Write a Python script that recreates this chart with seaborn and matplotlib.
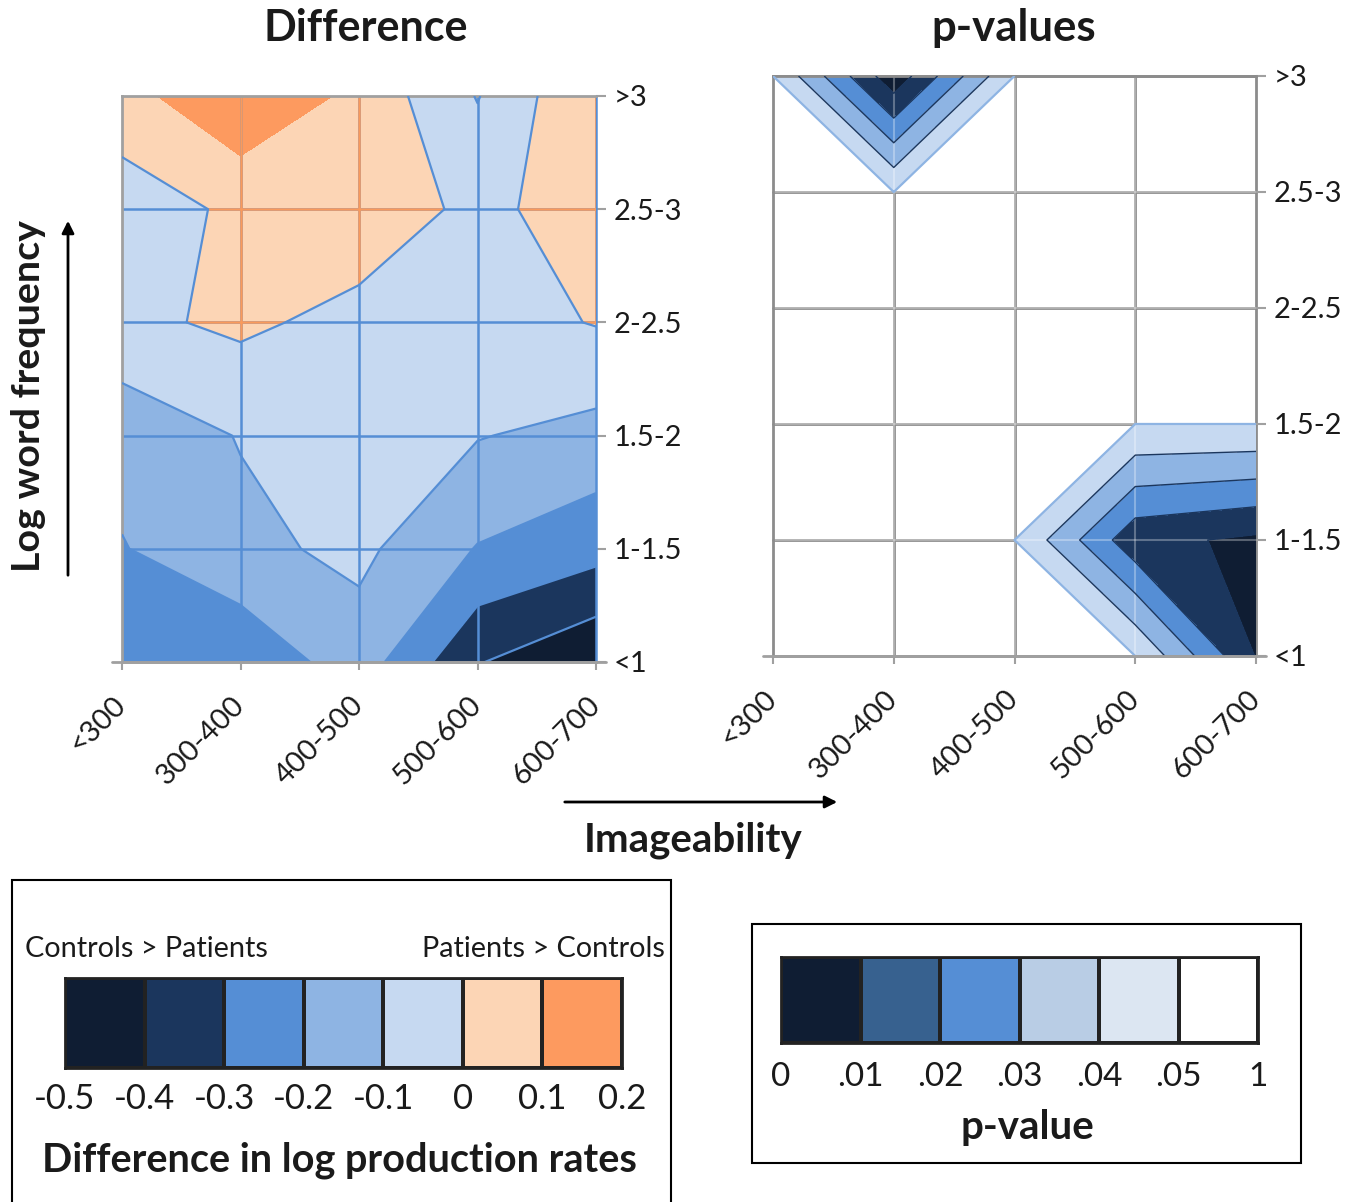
import numpy as np
import matplotlib
matplotlib.use("Agg")
import matplotlib.pyplot as plt
import seaborn as sns
from matplotlib.colors import ListedColormap
from matplotlib.path import Path
from matplotlib.patches import PathPatch, Rectangle

# ---------------- data ----------------
imageability = ["<300", "300-400", "400-500", "500-600", "600-700"]
log_freq = ["<1", "1-1.5", "1.5-2", "2-2.5", "2.5-3", ">3"]

# Difference in log production rates (patients - controls); one list per frequency band
diff_lt1 = [-0.25, -0.277, -0.146, -0.394, -0.49]
diff_1_15 = [-0.205, -0.124, -0.077, -0.205, -0.265]
diff_15_2 = [-0.166, -0.095, -0.05, -0.095, -0.133]
diff_2_25 = [-0.024, 0.02, -0.033, -0.04, 0.005]
diff_25_3 = [-0.053, 0.02, 0.067, -0.026, 0.05]
diff_gt3 = [0.062, 0.19, 0.074, -0.105, 0.102]

# p-values; one list per frequency band
p_lt1 = [0.5, 0.5, 0.5, 0.0499, 0.0095]
p_1_15 = [0.5, 0.5, 0.0499, 0.013, 0.008]
p_15_2 = [0.5, 0.5, 0.5, 0.0499, 0.0499]
p_2_25 = [0.5, 0.5, 0.5, 0.5, 0.5]
p_25_3 = [0.5, 0.0499, 0.5, 0.5, 0.5]
p_gt3 = [0.0499, 0.003, 0.0499, 0.5, 0.5]

diff_levels = [-0.5, -0.4, -0.3, -0.2, -0.1, 0, 0.1, 0.2]
diff_labels = ["-0.5", "-0.4", "-0.3", "-0.2", "-0.1", "0", "0.1", "0.2"]
p_levels = [0, 0.01, 0.02, 0.03, 0.04, 0.05, 1]
p_labels = ["0", ".01", ".02", ".03", ".04", ".05", "1"]

# ---------------- styles ----------------
diff_colors = ["#0f1d33", "#1b365d", "#558ed5", "#8eb4e3", "#c6d9f1", "#fcd5b5", "#fd9a5f"]
p_map_colors = ["#0f1d33", "#1b365d", "#558ed5", "#8eb4e3", "#c6d9f1", "#ffffff00"]
p_legend_colors = ["#0f1d33", "#37618f", "#558ed5", "#b9cde5", "#dce6f2", "#ffffff"]
BLUE_LINE = "#558ed5"
ORANGE_LINE = "#f99a5c"
GRAY = "#a0a0a0"
GRID_GRAY = "#8c8c8c"
TXT = "#1a1a1a"

sns.set_theme(style="white")
plt.rcParams["font.family"] = ["Lato", "DejaVu Sans"]
plt.rcParams["text.color"] = TXT
plt.rcParams["xtick.color"] = TXT
plt.rcParams["ytick.color"] = TXT
plt.rcParams["contour.negative_linestyle"] = "solid"

W, H = 1354, 1202
fig = plt.figure(figsize=(W / 100, H / 100), dpi=100)


def fr(x0, y0, x1, y1):
    return [x0 / W, 1 - y1 / H, (x1 - x0) / W, (y1 - y0) / H]


def fx(x):
    return x / W


def fy(y):
    return 1 - y / H


xs = np.arange(len(imageability))
ys = np.arange(len(log_freq))
Zd = np.array([diff_lt1, diff_1_15, diff_15_2, diff_2_25, diff_25_3, diff_gt3])
Zp = np.array([p_lt1, p_1_15, p_15_2, p_2_25, p_25_3, p_gt3])


def style_axes(ax, spine_color):
    ax.set_xlim(0, len(xs) - 1)
    ax.set_ylim(0, len(ys) - 1)
    ax.yaxis.tick_right()
    ax.set_yticks(ys)
    ax.set_yticklabels(log_freq)
    ax.set_xticks(xs)
    ax.set_xticklabels(imageability, rotation=45, ha="right", va="center",
                       rotation_mode="anchor")
    ax.tick_params(axis="y", which="both", right=True, left=False, direction="out",
                   length=7.5, width=1.5, color=GRAY, pad=5, labelsize=21)
    ax.tick_params(axis="x", which="both", bottom=True, direction="out",
                   length=6, width=1.5, color=GRAY, pad=22, labelsize=21)
    for s in ["left", "top", "bottom"]:
        ax.spines[s].set_visible(True)
        ax.spines[s].set_color(spine_color)
        ax.spines[s].set_linewidth(2)
    ax.spines["right"].set_visible(False)
    ax.plot([-0.021, 1.021], [0, 0], transform=ax.transAxes, clip_on=False,
            color=GRAY, lw=2, zorder=5)


# ---------------- left: difference ----------------
ax1 = fig.add_axes(fr(122, 96, 596, 662))
cs1 = ax1.contourf(xs, ys, Zd, levels=diff_levels, colors=diff_colors, zorder=1)
style_axes(ax1, GRAY)
for xi in xs[1:]:
    ax1.axvline(xi, color=BLUE_LINE, lw=1.8, zorder=2, clip_on=(xi != xs[-1]))
for yi in ys[1:-1]:
    ax1.axhline(yi, color=BLUE_LINE, lw=1.8, zorder=2)

orange_paths = [p for p in cs1.get_paths()[5:] if len(p.vertices)]
orange = Path.make_compound_path(*orange_paths)
clip_patch = PathPatch(orange, transform=ax1.transData, fc="none", ec="none")
ax1.add_patch(clip_patch)
for xi in xs[1:]:
    ln = ax1.axvline(xi, color=ORANGE_LINE, lw=1.8, zorder=2.2)
    ln.set_clip_path(clip_patch)
for yi in ys[1:-1]:
    ln = ax1.axhline(yi, color=ORANGE_LINE, lw=1.8, zorder=2.2)
    ln.set_clip_path(clip_patch)

ax1.contour(xs, ys, Zd, levels=[-0.4, -0.3, -0.2, -0.1, 0], colors=BLUE_LINE,
            linewidths=1.6, linestyles="solid", zorder=3)

# ---------------- right: p-values ----------------
ax2 = fig.add_axes(fr(773, 76, 1256, 656))
for xi in xs[1:]:
    ax2.axvline(xi, color=GRID_GRAY, lw=2, zorder=0.5, clip_on=False)
for yi in ys[1:]:
    ax2.axhline(yi, color=GRID_GRAY, lw=2, zorder=0.5, clip_on=False)
ax2.contourf(xs, ys, Zp, levels=p_levels, colors=p_map_colors, zorder=1)
style_axes(ax2, GRID_GRAY)
for xi in xs[1:-1]:
    ax2.axvline(xi, color="white", lw=1.5, alpha=0.3, zorder=2)
for yi in ys[1:-1]:
    ax2.axhline(yi, color="white", lw=1.5, alpha=0.3, zorder=2)
ax2.contour(xs, ys, Zp, levels=[0.01, 0.02, 0.03, 0.04], colors="#1b365d",
            linewidths=1.0, linestyles="solid", zorder=3)
ax2.contour(xs, ys, Zp, levels=[0.05], colors="#8eb4e3", linewidths=1.6,
            linestyles="solid", zorder=3)

# ---------------- titles and axis labels ----------------
fig.text(fx(366), fy(28), "Difference", ha="center", va="center", fontsize=31,
         fontweight="bold")
fig.text(fx(1014), fy(28), "p-values", ha="center", va="center", fontsize=31.5,
         fontweight="bold")
fig.text(fx(29), fy(396), "Log word frequency", ha="center", va="center",
         rotation=90, fontsize=28.4, fontweight="bold")
fig.text(fx(693), fy(840), "Imageability", ha="center", va="center", fontsize=29,
         fontweight="bold")
ax1.annotate("", xy=(fx(68), fy(218)), xycoords="figure fraction",
             xytext=(fx(68), fy(578)), textcoords="figure fraction",
             arrowprops=dict(arrowstyle="-|>", color="black", lw=2, mutation_scale=18),
             annotation_clip=False)
ax1.annotate("", xy=(fx(840), fy(802)), xycoords="figure fraction",
             xytext=(fx(562), fy(802)), textcoords="figure fraction",
             arrowprops=dict(arrowstyle="-|>", color="black", lw=2, mutation_scale=18),
             annotation_clip=False)

# ---------------- legends ----------------
fig.add_artist(Rectangle((fx(12), fy(1215)), (671 - 12) / W, (1215 - 880) / H,
                         transform=fig.transFigure, fill=False, ec="black", lw=1.5))
fig.add_artist(Rectangle((fx(752), fy(1163)), (1301 - 752) / W, (1163 - 924) / H,
                         transform=fig.transFigure, fill=False, ec="black", lw=1.5))

lax1 = fig.add_axes(fr(65, 978, 622, 1068))
sns.heatmap(np.arange(len(diff_colors)).reshape(1, -1), cmap=ListedColormap(diff_colors),
            vmin=-0.5, vmax=len(diff_colors) - 0.5, cbar=False, linewidths=1.5,
            linecolor="#222222", ax=lax1)
lax1.set_xticks(np.arange(len(diff_labels)))
lax1.set_xticklabels(diff_labels, rotation=0)
lax1.set_yticks([])
lax1.tick_params(axis="x", length=0, pad=11, labelsize=25)
for s in lax1.spines.values():
    s.set_visible(True)
    s.set_color("#222222")
    s.set_linewidth(2)
fig.text(fx(25), fy(949), "Controls > Patients", ha="left", va="center", fontsize=20.8)
fig.text(fx(665), fy(949), "Patients > Controls", ha="right", va="center", fontsize=20.8)
fig.text(fx(339), fy(1160), "Difference in log production rates", ha="center",
         va="center", fontsize=28.5, fontweight="bold")

lax2 = fig.add_axes(fr(781, 957, 1258, 1043))
sns.heatmap(np.arange(len(p_legend_colors)).reshape(1, -1),
            cmap=ListedColormap(p_legend_colors), vmin=-0.5,
            vmax=len(p_legend_colors) - 0.5, cbar=False, linewidths=1.5,
            linecolor="#222222", ax=lax2)
lax2.set_xticks(np.arange(len(p_labels)))
lax2.set_xticklabels(p_labels, rotation=0)
lax2.set_yticks([])
lax2.tick_params(axis="x", length=0, pad=14, labelsize=24)
for s in lax2.spines.values():
    s.set_visible(True)
    s.set_color("#222222")
    s.set_linewidth(2)
fig.text(fx(1027), fy(1128), "p-value", ha="center", va="center", fontsize=29,
         fontweight="bold")

fig.savefig("out.png", dpi=100)
